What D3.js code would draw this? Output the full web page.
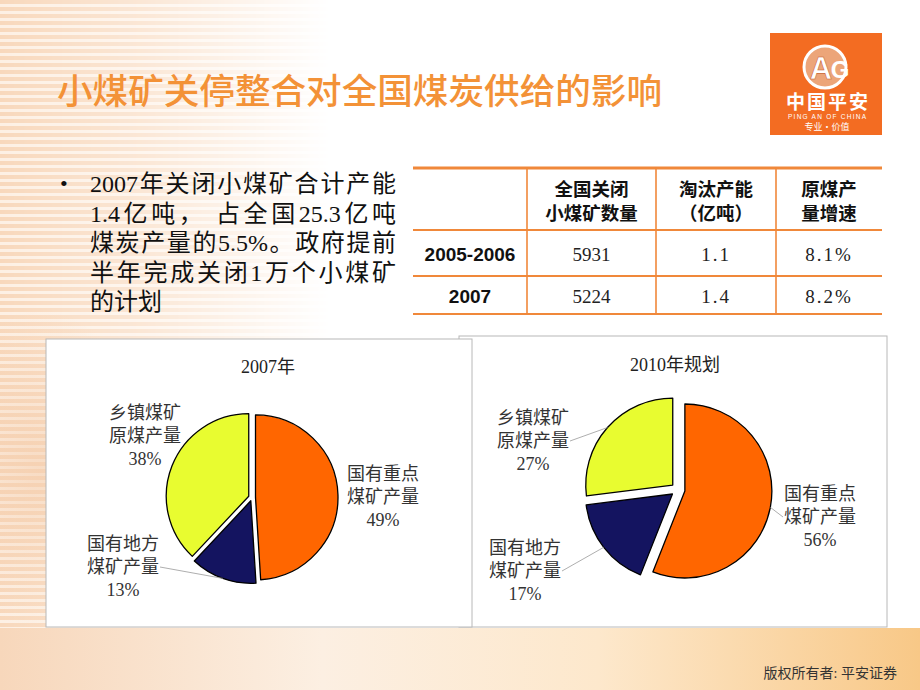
<!DOCTYPE html>
<html><head><meta charset="utf-8">
<script src="https://cdn.jsdelivr.net/npm/d3@7"></script>
<style>
html,body{margin:0;padding:0;background:#fff;}
svg{display:block;}
</style></head>
<body>
<svg id="chart" width="920" height="690"></svg>
<script>
// ---------------- data ----------------
const titleText = "小煤矿关停整合对全国煤炭供给的影响";
const bulletLines = [
  "2007年关闭小煤矿合计产能",
  "1.4亿吨， 占全国25.3亿吨",
  "煤炭产量的5.5%。政府提前",
  "半年完成关闭1万个小煤矿",
  "的计划"
];
const tableHeaders = [["",""],["全国关闭","小煤矿数量"],["淘汰产能","（亿吨）"],["原煤产","量增速"]];
const tablePeriods = ["2005-2006","2007"];
const closedMines = [5931, 5224];
const capacityCut = [1.1, 1.4];
const outputGrowth = [8.1, 8.2];
const sliceNames = [["国有重点","煤矿产量"],["国有地方","煤矿产量"],["乡镇煤矿","原煤产量"]];
const share2007 = [49, 13, 38];
const share2010 = [56, 17, 27];
const pieTitles = ["2007年","2010年规划"];
const footerText = "版权所有者: 平安证券";

// ---------------- styles / layout ----------------
const SERIF = "'Liberation Serif','DejaVu Serif','Noto Sans CJK SC',serif";
const SANS = "'Noto Sans CJK SC','Liberation Sans',sans-serif";
const sliceColors = ["#ff6600","#141460","#e8fc30"];
const svg = d3.select("#chart");
const defs = svg.append("defs");

// background: left striped peach area
const stripe = defs.append("pattern").attr("id","stripes").attr("patternUnits","userSpaceOnUse")
  .attr("width",10).attr("height",7);
stripe.append("rect").attr("width",10).attr("height",7).attr("fill","#f8d8bc");
stripe.append("rect").attr("y",4).attr("width",10).attr("height",3).attr("fill","#fdf0e4");
const fade = defs.append("linearGradient").attr("id","fade").attr("x1",0).attr("x2",1).attr("y1",0).attr("y2",0);
fade.append("stop").attr("offset",0).attr("stop-color","#fff").attr("stop-opacity",1);
fade.append("stop").attr("offset",0.45).attr("stop-color","#fff").attr("stop-opacity",0.6);
fade.append("stop").attr("offset",1).attr("stop-color","#fff").attr("stop-opacity",0);
const mask = defs.append("mask").attr("id","fadeMask");
mask.append("rect").attr("width",330).attr("height",690).attr("fill","url(#fade)");
svg.append("rect").attr("width",330).attr("height",690).attr("fill","url(#stripes)").attr("mask","url(#fadeMask)");
const blob = defs.append("radialGradient").attr("id","blob");
blob.append("stop").attr("offset",0).attr("stop-color","#f3c9a6").attr("stop-opacity",0.55);
blob.append("stop").attr("offset",1).attr("stop-color","#f3c9a6").attr("stop-opacity",0);
svg.append("ellipse").attr("cx",40).attr("cy",470).attr("rx",110).attr("ry",160).attr("fill","url(#blob)");

// footer band
const band = defs.append("linearGradient").attr("id","band").attr("x1",0).attr("x2",1);
band.append("stop").attr("offset",0).attr("stop-color","#f7d7bb");
band.append("stop").attr("offset",0.35).attr("stop-color","#fcefe2");
band.append("stop").attr("offset",0.65).attr("stop-color","#fde8cc");
band.append("stop").attr("offset",1).attr("stop-color","#f8c887");
svg.append("rect").attr("x",0).attr("y",628).attr("width",920).attr("height",62).attr("fill","url(#band)");

// title
svg.append("text").attr("x",57).attr("y",104).attr("font-family",SANS).attr("font-size",35).attr("font-weight",500)
  .attr("fill","#f39237").attr("textLength",605).attr("lengthAdjust","spacingAndGlyphs").text(titleText);

// logo
const logo = svg.append("g");
logo.append("rect").attr("x",770).attr("y",33).attr("width",112).attr("height",102).attr("fill","#f36c22");
logo.append("circle").attr("cx",825).attr("cy",67).attr("r",21).attr("fill","#eca579").attr("stroke","#fff").attr("stroke-width",3);
logo.append("text").attr("x",821).attr("y",79).attr("text-anchor","middle").attr("font-family","'Liberation Sans',sans-serif")
  .attr("font-weight","bold").attr("font-size",31).attr("fill","#fff").attr("stroke","#c8602a").attr("stroke-width",0.6).text("A");
logo.append("text").attr("x",840).attr("y",78).attr("text-anchor","middle").attr("font-family","'Liberation Sans',sans-serif")
  .attr("font-weight","bold").attr("font-size",24).attr("fill","#fff").text("G");
logo.append("text").attr("x",827).attr("y",109).attr("text-anchor","middle").attr("font-family",SANS)
  .attr("font-weight","bold").attr("font-size",19).attr("fill","#fff").attr("textLength",82).text("中国平安");
logo.append("text").attr("x",827).attr("y",118.5).attr("text-anchor","middle").attr("font-family","'Liberation Sans',sans-serif")
  .attr("font-size",6.5).attr("fill","#fff").attr("textLength",78).text("PING AN OF CHINA");
logo.append("text").attr("x",827).attr("y",130).attr("text-anchor","middle").attr("font-family",SANS)
  .attr("font-size",9).attr("fill","#fff").text("专业·价值");

// bullet text (justified, extra space only next to CJK glyphs)
svg.append("text").attr("x",60).attr("y",191).attr("font-family",SERIF).attr("font-size",22).attr("fill","#111").text("•");
const bt = svg.append("g").attr("font-family",SERIF).attr("font-size",24).attr("fill","#111");
const isWide = c => /[\u3000-\u9fff\uff00-\uffef ]/.test(c);
bulletLines.forEach((l,i)=>{
  const chars = Array.from(l);
  const t = bt.append("text").attr("x",90).attr("y",192 + i*29.6);
  const spans = chars.map(c => t.append("tspan").text(c));
  if (i < bulletLines.length-1) {
    const natural = t.node().getComputedTextLength();
    const weights = chars.map((c,k)=> k===0 ? 0 : ((isWide(c) || isWide(chars[k-1])) ? 1 : 0));
    const W = d3.sum(weights);
    const extra = (306 - natural) / W;
    spans.forEach((s,k)=> { if (weights[k]) s.attr("dx", extra); });
  }
});

// table
const colX = d3.scaleOrdinal().domain(d3.range(4)).range([413,527,656,776]);
const colR = 882;
const colCenter = i => (colX(i) + (i<3 ? colX(i+1) : colR)) / 2;
const rowLines = [168, 230, 276, 314];
const tcol = "#f0883a";
const tg = svg.append("g");
rowLines.forEach((y,i)=> tg.append("line").attr("x1",413).attr("x2",colR).attr("y1",y).attr("y2",y)
  .attr("stroke",tcol).attr("stroke-width", i===0?3:2));
[1,2,3].forEach(i=> tg.append("line").attr("x1",colX(i)).attr("x2",colX(i)).attr("y1",168).attr("y2",314)
  .attr("stroke",tcol).attr("stroke-width",1.6));
tableHeaders.forEach((h,i)=>{
  h.forEach((s,j)=> { if (s) tg.append("text").attr("x",colCenter(i)).attr("y",196 + j*24).attr("text-anchor","middle")
    .attr("font-family",SANS).attr("font-weight","bold").attr("font-size",18.5).attr("fill","#111").text(s); });
});
const rowY = [261, 303];
tablePeriods.forEach((p,r)=>{
  tg.append("text").attr("x",colCenter(0)).attr("y",rowY[r]).attr("text-anchor","middle")
    .attr("font-family","'Liberation Sans Narrow','Liberation Sans',sans-serif").attr("font-weight","bold").attr("font-size",19).attr("fill","#111").text(p);
  const vals = [String(closedMines[r]), d3.format(".1f")(capacityCut[r]), d3.format(".1f")(outputGrowth[r]) + "%"];
  vals.forEach((v,k)=> tg.append("text").attr("x",colCenter(k+1)).attr("y",rowY[r]).attr("text-anchor","middle")
    .attr("font-family",SERIF).attr("font-size",19).attr("letter-spacing", k>0 ? 2 : 0).attr("fill","#222").text(v));
});

// pie panels
svg.append("rect").attr("x",459).attr("y",336).attr("width",428).attr("height",291).attr("fill","#fff").attr("stroke","#b8b8b8").attr("stroke-width",1);
svg.append("rect").attr("x",46).attr("y",339).attr("width",426).attr("height",288).attr("fill","#fff").attr("stroke","#b8b8b8").attr("stroke-width",1);

const pies = [
  {values: share2007, title: pieTitles[0], tx: 268, ty: 373, cx: 252, cy: 497.5, r: 82.5, explode: 3.5,
   labels: [[383,480],[123,550],[145,419]], leaders: [false,true,false]},
  {values: share2010, title: pieTitles[1], tx: 675, ty: 371, cx: 678, cy: 489.7, r: 87, explode: 7,
   labels: [[820,500],[525,554],[533,424]], leaders: [true,true,true]}
];
const pieGen = d3.pie().sort(null).startAngle(0).endAngle(2*Math.PI);
pies.forEach(cfg=>{
  const g = svg.append("g");
  g.append("text").attr("x",cfg.tx).attr("y",cfg.ty).attr("text-anchor","middle")
    .attr("font-family",SERIF).attr("font-size",18).attr("fill","#222").text(cfg.title);
  const arc = d3.arc().innerRadius(0).outerRadius(cfg.r);
  const arcs = pieGen(cfg.values);
  arcs.forEach((a,i)=>{
    const mid = (a.startAngle + a.endAngle)/2;
    const ox = cfg.cx + Math.sin(mid)*cfg.explode, oy = cfg.cy - Math.cos(mid)*cfg.explode;
    g.append("path").attr("d",arc(a)).attr("transform",`translate(${ox},${oy})`)
      .attr("fill",sliceColors[i]).attr("stroke","#000").attr("stroke-width",1.3).attr("stroke-linejoin","round");
    const [lx,ly] = cfg.labels[i];
    const lines = sliceNames[i].concat([a.data + "%"]);
    lines.forEach((s,j)=> g.append("text").attr("x",lx).attr("y",ly + j*23).attr("text-anchor","middle")
      .attr("font-family",SERIF).attr("font-size",18).attr("fill","#333").text(s));
    if (cfg.leaders[i]) {
      const px = ox + Math.sin(mid)*cfg.r, py = oy - Math.cos(mid)*cfg.r;
      const sx = lx < px ? lx + 37 : lx - 37;
      g.append("line").attr("x1",sx).attr("y1",ly + 23 - 6).attr("x2",px).attr("y2",py)
        .attr("stroke","#999").attr("stroke-width",0.8);
    }
  });
});

// footer
svg.append("text").attr("x",897).attr("y",678).attr("text-anchor","end").attr("font-family",SERIF)
  .attr("font-size",14).attr("fill","#333").text(footerText);
</script>
</body></html>
